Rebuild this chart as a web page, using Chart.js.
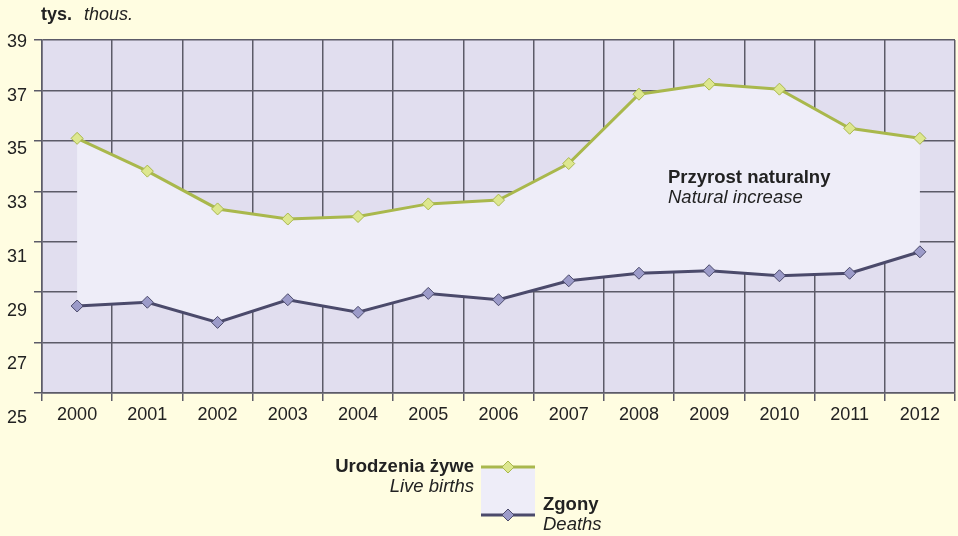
<!DOCTYPE html>
<html>
<head>
<meta charset="utf-8">
<script src="https://cdn.jsdelivr.net/npm/chart.js@4"></script>
<style>
  body { margin: 0; background: #FFFDE1; }
  #wrap { width: 958px; height: 536px; }
</style>
</head>
<body>
<div id="wrap"><canvas id="lineChart" width="958" height="536"></canvas></div>
<script>
"use strict";
// Dane
const years = ["2000", "2001", "2002", "2003", "2004", "2005", "2006", "2007", "2008", "2009", "2010", "2011", "2012"];
const liveBirths = [35.1, 33.8, 32.3, 31.9, 32.0, 32.5, 32.65, 34.1, 36.85, 37.25, 37.05, 35.5, 35.1];
const deaths = [28.45, 28.6, 27.8, 28.7, 28.2, 28.95, 28.7, 29.45, 29.75, 29.85, 29.65, 29.75, 30.6];
const yTicks = [25, 27, 29, 31, 33, 35, 37, 39];

const FONT = "'Liberation Sans', Arial, sans-serif";
const txt = "#222222";
const greenLine = "#A9B84C";
const greenFill = "#DDE78F";
const purpleLine = "#4B4A6B";
const purpleFill = "#9C9BC9";
const areaFill = "#EEEDF8";

// Tło obszaru wykresu, etykiety osi Y, opis i legenda
const decor = {
    id: "decor",
    beforeDraw(chart) {
        const { ctx, chartArea: a } = chart;
        ctx.save();
        ctx.fillStyle = "#E1DEEF";
        ctx.fillRect(a.left, a.top, a.right - a.left, a.bottom - a.top);
        ctx.restore();
    },
    afterDraw(chart) {
        const { ctx, chartArea: a } = chart;
        const y = chart.scales.y;
        ctx.save();
        ctx.fillStyle = txt;
        ctx.textBaseline = "middle";

        // Etykiety osi Y (w oryginale lekko rozjechane względem linii)
        ctx.font = "18px " + FONT;
        ctx.textAlign = "right";
        yTicks.forEach(v => {
            const py = y.getPixelForValue(v);
            ctx.fillText(String(v), 27, a.top + 2 + (py - a.top) * 1.065);
        });

        // Jednostka
        ctx.textAlign = "left";
        ctx.font = "bold 18px " + FONT;
        ctx.fillText("tys.", 41, 15);
        ctx.font = "italic 18px " + FONT;
        ctx.fillText("thous.", 84, 15);

        // Opis obszaru
        ctx.font = "bold 18.5px " + FONT;
        ctx.fillText("Przyrost naturalny", 668, 178);
        ctx.font = "italic 18.5px " + FONT;
        ctx.fillText("Natural increase", 668, 198);

        // Legenda
        const lx1 = 481, lx2 = 535, ly1 = 467, ly2 = 515;
        ctx.fillStyle = areaFill;
        ctx.fillRect(lx1, ly1, lx2 - lx1, ly2 - ly1);
        ctx.lineWidth = 3;
        ctx.strokeStyle = greenLine;
        ctx.beginPath(); ctx.moveTo(lx1, ly1); ctx.lineTo(lx2, ly1); ctx.stroke();
        ctx.strokeStyle = purpleLine;
        ctx.beginPath(); ctx.moveTo(lx1, ly2); ctx.lineTo(lx2, ly2); ctx.stroke();
        const diamond = (cx, cy, fill, stroke) => {
            ctx.beginPath();
            ctx.moveTo(cx, cy - 6); ctx.lineTo(cx + 6, cy); ctx.lineTo(cx, cy + 6); ctx.lineTo(cx - 6, cy);
            ctx.closePath();
            ctx.fillStyle = fill; ctx.fill();
            ctx.lineWidth = 1; ctx.strokeStyle = stroke; ctx.stroke();
        };
        diamond(508, ly1, greenFill, greenLine);
        diamond(508, ly2, purpleFill, purpleLine);

        ctx.fillStyle = txt;
        ctx.textAlign = "right";
        ctx.font = "bold 18.5px " + FONT;
        ctx.fillText("Urodzenia żywe", 474, 467);
        ctx.font = "italic 18.5px " + FONT;
        ctx.fillText("Live births", 474, 487);
        ctx.textAlign = "left";
        ctx.font = "bold 18.5px " + FONT;
        ctx.fillText("Zgony", 543, 505);
        ctx.font = "italic 18.5px " + FONT;
        ctx.fillText("Deaths", 543, 525);
        ctx.restore();
    }
};

const ctx = document.getElementById("lineChart");
new Chart(ctx, {
    type: "line",
    data: {
        labels: years,
        datasets: [{
            label: "Urodzenia żywe",
            data: liveBirths,
            borderColor: greenLine,
            borderWidth: 3,
            backgroundColor: areaFill,
            fill: "+1",
            pointStyle: "rectRot",
            pointRadius: 6,
            pointBackgroundColor: greenFill,
            pointBorderColor: greenLine,
            pointBorderWidth: 1,
            tension: 0
        }, {
            label: "Zgony",
            data: deaths,
            borderColor: purpleLine,
            borderWidth: 3,
            fill: false,
            pointStyle: "rectRot",
            pointRadius: 6,
            pointBackgroundColor: purpleFill,
            pointBorderColor: purpleLine,
            pointBorderWidth: 1,
            tension: 0
        }]
    },
    options: {
        responsive: false,
        animation: false,
        layout: { padding: { top: 40, right: 3, left: 0, bottom: 0 }, autoPadding: false },
        plugins: {
            legend: { display: false },
            tooltip: { enabled: false },
            filler: { drawTime: "beforeDatasetsDraw" }
        },
        scales: {
            x: {
                offset: true,
                grid: {
                    offset: true,
                    color: "#5C5B68",
                    lineWidth: 1.5,
                    tickLength: 8
                },
                border: { color: "#5C5B68", width: 1.5 },
                ticks: {
                    color: txt,
                    font: { family: FONT, size: 18 },
                    padding: 3,
                    maxRotation: 0
                },
                afterFit(scale) {
                    scale.height = 143;
                    scale.paddingLeft = 0;
                    scale.paddingRight = 0;
                }
            },
            y: {
                min: 25,
                max: 39,
                grid: {
                    color: "#5C5B68",
                    lineWidth: 1.5,
                    tickLength: 8
                },
                border: { color: "#5C5B68", width: 1.5 },
                ticks: { display: false, stepSize: 2 },
                afterFit(scale) { scale.width = 42; }
            }
        }
    },
    plugins: [decor]
});
</script>
</body>
</html>
